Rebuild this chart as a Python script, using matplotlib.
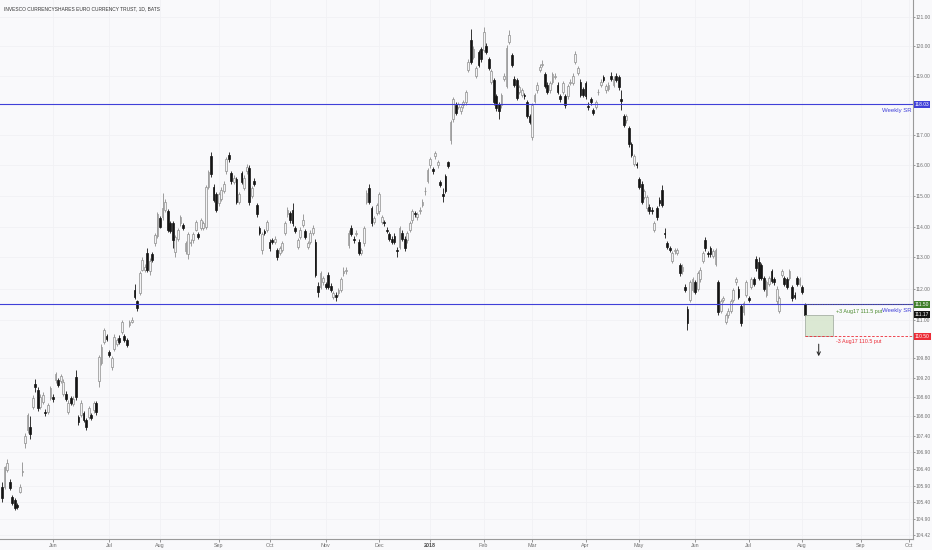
import numpy as np
import pandas as pd
import matplotlib
matplotlib.use('Agg')
import matplotlib.pyplot as plt
from matplotlib.ticker import FixedLocator, NullLocator, FuncFormatter
from matplotlib.patches import Rectangle

# --- data (daily candles, FXE 1D) ---
title = 'INVESCO CURRENCYSHARES EURO CURRENCY TRUST, 1D, BATS'
start_date = '2017-05-03'
end_calendar = '2018-10-10'
holidays = ['2017-05-29', '2017-07-04', '2017-09-04', '2017-11-23', '2017-12-25',
            '2018-01-01', '2018-01-15', '2018-02-19', '2018-03-30', '2018-05-28',
            '2018-07-04', '2018-09-03']

opens = [
    105.86, 105.86, 106.37, 106.00, 105.56, 105.47, 105.30, 105.71, 106.30, 107.20,
    107.59, 107.68, 108.30, 109.00, 108.82, 108.30, 108.45, 108.15, 108.15, 108.57,
    108.60, 109.13, 109.13, 109.10, 108.70, 108.70, 108.15, 108.57, 108.40, 109.22,
    107.98, 108.05, 108.10, 107.89, 107.98, 108.05, 108.20, 108.42, 109.10, 109.66,
    110.32, 110.50, 110.00, 109.53, 110.10, 110.25, 110.45, 110.63, 110.50, 110.38,
    110.85, 110.95, 111.96, 111.60, 111.86, 112.60, 112.60, 113.14, 112.55, 113.10,
    113.45, 113.70, 114.27, 114.30, 114.55, 114.50, 114.10, 114.10, 113.18, 113.60,
    114.10, 114.05, 113.20, 113.10, 113.45, 113.55, 113.90, 113.75, 113.95, 113.95,
    114.00, 115.30, 116.30, 115.30, 115.05, 114.75, 114.90, 115.15, 115.80, 116.35,
    115.75, 115.45, 115.55, 114.80, 115.75, 115.25, 115.80, 115.90, 115.00, 115.50,
    114.70, 113.95, 113.25, 113.85, 113.90, 113.50, 113.55, 113.50, 113.25, 113.15,
    113.25, 113.80, 114.40, 114.45, 114.55, 113.95, 113.35, 113.65, 114.05, 113.85,
    113.35, 113.50, 113.80, 113.50, 112.10, 112.05, 112.20, 112.15, 112.45, 112.10,
    111.75, 111.80, 111.85, 111.95, 112.50, 112.55, 113.40, 113.95, 113.60, 113.75,
    113.50, 113.15, 113.45, 114.80, 115.25, 114.60, 114.15, 114.45, 114.50, 114.15,
    114.15, 113.90, 113.75, 113.60, 113.70, 113.25, 113.35, 113.80, 113.60, 113.55,
    113.90, 114.20, 114.45, 114.30, 114.50, 114.70, 115.15, 115.50, 116.00, 115.88,
    116.30, 116.00, 115.45, 115.05, 115.65, 116.10, 116.85, 117.55, 118.00, 117.95,
    117.80, 118.00, 118.10, 119.20, 120.20, 119.65, 119.00, 119.80, 119.90, 119.87,
    120.00, 119.55, 118.80, 118.85, 118.30, 118.05, 118.00, 118.90, 118.65, 120.15,
    119.70, 118.90, 118.85, 118.45, 118.35, 118.35, 118.10, 117.65, 116.95, 118.15,
    118.50, 119.20, 119.35, 119.05, 118.70, 118.50, 118.80, 118.95, 118.70, 118.30,
    118.45, 118.30, 118.30, 118.75, 118.75, 119.45, 119.10, 118.80, 118.55, 118.75,
    117.98, 118.20, 117.85, 117.95, 118.45, 118.70, 118.95, 118.50, 118.55, 119.00,
    118.70, 119.00, 118.95, 118.20, 117.65, 117.50, 117.25, 116.70, 116.05, 116.05,
    115.55, 115.40, 114.95, 114.60, 114.65, 114.55, 113.90, 114.60, 114.85, 115.20,
    113.80, 113.45, 113.30, 112.90, 113.20, 113.15, 112.75, 112.55, 112.05, 111.35,
    111.65, 111.95, 112.20, 112.00, 112.30, 112.90, 113.55, 113.15, 113.30, 113.05,
    112.80, 112.20, 111.30, 111.65, 110.95, 111.15, 111.30, 111.65, 112.20, 112.00,
    111.45, 111.25, 111.80, 111.70, 112.05, 112.30, 112.95, 112.85, 112.75, 112.35,
    111.80, 112.15, 112.55, 112.30, 111.60, 111.30, 112.45, 112.35, 112.30, 112.35,
    112.05, 111.80, 112.35, 112.15, 112.05, 111.50,
]
highs = [
    106.00, 106.50, 106.70, 106.10, 105.62, 105.52, 105.36, 105.95, 106.60, 107.48,
    108.12, 108.00, 108.65, 109.15, 108.90, 108.68, 108.75, 108.22, 108.42, 108.95,
    108.70, 109.38, 109.20, 109.32, 109.15, 108.78, 108.50, 108.62, 108.62, 109.45,
    108.05, 108.50, 108.18, 107.95, 108.32, 108.10, 108.48, 108.48, 109.90, 110.25,
    110.75, 110.58, 110.06, 109.88, 110.55, 110.45, 110.52, 111.00, 110.56, 110.45,
    111.02, 111.10, 112.15, 111.65, 112.58, 113.00, 112.78, 113.30, 112.98, 113.18,
    113.80, 114.48, 114.35, 115.10, 114.88, 114.58, 114.18, 114.18, 113.72, 113.96,
    114.36, 114.12, 113.52, 113.82, 113.58, 113.82, 114.22, 113.82, 114.26, 114.18,
    115.36, 115.85, 116.45, 115.38, 115.12, 115.12, 115.28, 115.48, 116.28, 116.45,
    115.82, 115.68, 115.62, 115.12, 115.82, 115.68, 116.05, 116.00, 115.32, 115.58,
    114.78, 114.02, 113.82, 113.92, 114.22, 113.58, 113.62, 113.68, 113.32, 113.38,
    113.52, 114.18, 114.62, 114.52, 114.75, 114.02, 113.62, 113.98, 114.40, 113.92,
    113.52, 113.88, 114.05, 113.60, 112.20, 112.58, 112.42, 112.22, 112.52, 112.18,
    111.92, 111.88, 112.02, 112.38, 112.68, 112.68, 113.88, 114.05, 113.68, 113.88,
    113.58, 113.32, 114.02, 115.18, 115.40, 114.68, 114.35, 114.78, 115.12, 114.38,
    114.22, 113.98, 113.82, 113.68, 113.78, 113.35, 114.02, 113.88, 113.68, 113.86,
    114.18, 114.58, 114.52, 114.48, 114.62, 114.88, 115.30, 115.92, 116.28, 115.95,
    116.48, 116.18, 115.52, 115.25, 115.72, 116.15, 117.52, 118.28, 118.10, 118.12,
    118.02, 118.18, 118.52, 119.55, 120.60, 120.00, 119.32, 119.88, 119.98, 120.65,
    120.10, 119.62, 119.22, 118.92, 118.38, 118.12, 118.42, 119.08, 120.05, 120.55,
    119.78, 118.98, 118.92, 118.68, 118.58, 118.42, 118.18, 117.72, 118.08, 118.42,
    118.78, 119.38, 119.52, 119.12, 118.78, 118.82, 119.12, 119.08, 118.78, 118.38,
    118.82, 118.38, 118.72, 118.88, 119.08, 119.85, 119.32, 118.88, 118.62, 118.82,
    118.10, 118.28, 117.92, 118.18, 118.55, 118.88, 119.02, 118.72, 118.78, 119.12,
    118.98, 119.08, 119.02, 118.50, 117.72, 117.72, 117.32, 116.78, 116.38, 116.12,
    115.62, 115.48, 115.22, 115.02, 114.72, 114.62, 114.18, 114.68, 114.95, 115.35,
    113.95, 113.52, 113.38, 113.22, 113.32, 113.32, 112.82, 112.78, 112.15, 111.45,
    112.28, 112.38, 112.28, 112.58, 112.68, 113.22, 113.65, 113.22, 113.38, 113.28,
    113.32, 112.28, 111.68, 111.78, 111.22, 111.38, 111.68, 112.02, 112.38, 112.08,
    111.52, 111.62, 112.28, 111.78, 112.38, 112.38, 113.05, 113.00, 112.82, 112.42,
    112.28, 112.42, 112.62, 112.38, 112.08, 111.78, 112.62, 112.42, 112.38, 112.62,
    112.12, 111.88, 112.42, 112.38, 112.12, 111.55,
]
lows = [
    105.40, 105.80, 106.30, 105.75, 105.30, 105.15, 105.18, 105.66, 106.20, 107.05,
    107.50, 107.30, 108.22, 108.75, 108.18, 108.22, 108.38, 108.02, 108.08, 108.50,
    108.45, 109.05, 108.90, 109.02, 108.62, 108.48, 108.08, 108.35, 108.32, 108.52,
    107.75, 107.98, 107.82, 107.60, 107.92, 107.90, 108.12, 108.05, 108.90, 109.58,
    110.25, 110.34, 109.84, 109.45, 110.04, 110.18, 110.24, 110.58, 110.32, 110.15,
    110.80, 110.90, 111.68, 111.30, 111.80, 112.55, 112.52, 112.52, 112.45, 112.85,
    113.38, 113.62, 113.94, 114.22, 114.48, 113.82, 113.78, 113.30, 113.00, 113.54,
    114.02, 113.88, 113.12, 112.95, 113.38, 113.48, 113.84, 113.58, 113.88, 113.88,
    113.92, 115.22, 115.62, 114.80, 114.48, 114.68, 114.82, 115.08, 115.72, 116.12,
    115.40, 115.38, 114.72, 114.72, 115.38, 115.18, 115.72, 114.70, 114.92, 115.32,
    114.32, 113.72, 113.10, 113.72, 113.82, 113.22, 113.42, 113.42, 112.92, 113.08,
    113.18, 113.72, 114.32, 114.12, 114.02, 113.78, 113.28, 113.58, 113.98, 113.58,
    113.28, 113.42, 113.72, 112.38, 111.72, 111.98, 112.12, 111.98, 111.98, 111.88,
    111.68, 111.62, 111.78, 111.88, 112.42, 112.48, 113.32, 113.68, 113.48, 113.68,
    113.08, 113.08, 113.38, 114.72, 114.72, 114.02, 114.08, 114.38, 114.42, 114.08,
    114.02, 113.78, 113.52, 113.42, 113.42, 113.00, 113.28, 113.52, 113.22, 113.48,
    113.82, 114.12, 114.32, 114.22, 114.42, 114.62, 115.02, 115.42, 115.92, 115.72,
    116.22, 115.92, 115.28, 114.80, 115.08, 115.90, 116.70, 117.45, 117.68, 117.88,
    117.72, 117.92, 118.02, 119.12, 119.38, 119.58, 118.92, 119.28, 119.48, 119.80,
    119.72, 119.18, 118.72, 118.02, 117.82, 117.55, 117.92, 118.82, 118.58, 120.08,
    119.28, 118.62, 118.18, 118.38, 118.28, 118.22, 117.58, 117.38, 116.85, 118.08,
    118.42, 119.12, 119.28, 118.58, 118.38, 118.42, 118.72, 118.88, 118.38, 118.12,
    118.38, 117.92, 118.22, 118.68, 118.68, 119.38, 119.02, 118.28, 118.28, 118.22,
    117.85, 118.02, 117.68, 117.88, 118.35, 118.62, 118.78, 118.42, 118.48, 118.82,
    118.62, 118.78, 118.52, 117.85, 117.28, 117.42, 116.62, 116.28, 115.98, 115.92,
    115.22, 114.72, 114.88, 114.52, 114.42, 114.40, 113.82, 114.22, 114.68, 114.62,
    113.62, 113.28, 113.18, 112.82, 113.12, 113.08, 112.42, 112.48, 111.88, 110.70,
    111.58, 111.88, 111.82, 111.92, 112.22, 112.82, 113.22, 113.02, 113.02, 112.98,
    112.72, 111.18, 111.22, 111.58, 110.88, 111.08, 111.22, 111.58, 112.12, 111.68,
    110.82, 111.18, 111.72, 111.58, 111.98, 112.08, 112.58, 112.28, 112.28, 111.92,
    111.72, 112.08, 112.18, 112.12, 111.52, 111.22, 112.38, 112.08, 111.98, 112.28,
    111.62, 111.68, 112.08, 112.08, 111.82, 111.12,
]
closes = [
    105.53, 106.46, 106.58, 105.83, 105.38, 105.23, 105.26, 105.86, 106.35, 107.40,
    108.05, 107.45, 108.57, 108.90, 108.26, 108.60, 108.67, 108.12, 108.36, 108.88,
    108.55, 109.30, 108.98, 109.25, 109.08, 108.55, 108.42, 108.42, 108.55, 108.60,
    107.83, 108.42, 107.89, 107.68, 108.26, 107.95, 108.42, 108.15, 109.84, 110.16,
    110.69, 110.40, 109.90, 109.81, 110.47, 110.37, 110.30, 110.95, 110.38, 110.22,
    110.95, 111.01, 111.74, 111.40, 112.50, 112.92, 112.70, 112.60, 112.90, 112.92,
    113.72, 114.40, 114.00, 114.60, 114.80, 113.90, 113.85, 113.55, 113.65, 113.90,
    114.30, 113.95, 113.45, 113.75, 113.50, 113.75, 114.15, 113.65, 114.20, 114.10,
    115.30, 115.78, 115.70, 114.86, 114.55, 115.05, 115.20, 115.40, 116.20, 116.20,
    115.48, 115.60, 114.80, 115.05, 115.45, 115.60, 115.95, 114.80, 115.25, 115.40,
    114.40, 113.80, 113.75, 113.80, 114.15, 113.30, 113.50, 113.60, 113.00, 113.30,
    113.45, 114.10, 114.55, 114.20, 114.10, 113.85, 113.55, 113.90, 114.20, 113.65,
    113.45, 113.80, 113.95, 112.45, 111.90, 112.50, 112.35, 112.05, 112.05, 111.95,
    111.85, 111.75, 111.95, 112.30, 112.55, 112.60, 113.80, 113.75, 113.55, 113.80,
    113.15, 113.25, 113.95, 115.10, 114.80, 114.10, 114.27, 114.70, 115.05, 114.30,
    114.10, 113.85, 113.60, 113.50, 113.50, 113.22, 113.95, 113.60, 113.30, 113.80,
    114.10, 114.50, 114.40, 114.40, 114.55, 114.80, 115.17, 115.85, 116.20, 115.80,
    116.40, 116.10, 115.35, 115.00, 115.15, 115.98, 117.45, 118.20, 117.75, 118.05,
    117.95, 118.10, 118.45, 119.45, 119.45, 119.90, 119.25, 119.35, 119.55, 120.50,
    119.80, 119.25, 119.15, 118.10, 117.90, 117.80, 118.35, 119.00, 119.95, 120.40,
    119.35, 118.70, 118.25, 118.60, 118.50, 118.30, 117.65, 117.45, 118.00, 118.35,
    118.70, 119.30, 119.40, 118.65, 118.45, 118.75, 119.05, 119.00, 118.45, 118.20,
    118.75, 118.00, 118.65, 118.80, 119.00, 119.75, 119.25, 118.35, 118.35, 118.30,
    117.95, 118.10, 117.75, 118.10, 118.45, 118.80, 118.85, 118.65, 118.70, 118.90,
    118.90, 118.85, 118.60, 118.15, 117.35, 117.65, 116.70, 116.35, 116.30, 116.00,
    115.30, 114.80, 115.15, 114.95, 114.50, 114.50, 114.10, 114.30, 114.75, 114.70,
    113.75, 113.35, 113.25, 113.15, 113.25, 113.25, 112.50, 112.70, 111.95, 110.90,
    112.20, 112.30, 111.90, 112.50, 112.60, 113.15, 113.30, 113.10, 113.10, 113.20,
    113.25, 111.25, 111.60, 111.70, 111.15, 111.30, 111.60, 111.95, 112.30, 111.75,
    110.90, 111.55, 112.20, 111.65, 112.30, 112.15, 112.65, 112.35, 112.35, 112.00,
    112.20, 112.35, 112.25, 112.20, 112.00, 111.70, 112.55, 112.15, 112.05, 112.55,
    111.70, 111.75, 112.15, 112.30, 111.90, 111.17,
]

weekly_sr = [118.03, 111.50]
put_long = 111.5
put_short = 110.5
expiry = '2018-08-17'
long_label = '+3 Aug17 111.5 put'
short_label = '-3 Aug17 110.5 put'
price_ticks = [121.00, 120.00, 119.00, 117.00, 116.00, 115.00, 114.00, 113.00,
               112.00, 111.00, 109.80, 109.20, 108.60, 108.00, 107.40, 106.90, 106.40,
               105.90, 105.40, 104.90, 104.42]
y_range = (104.30, 121.59)

# --- colours ---
bg = '#f9f9fb'
sr_blue = '#4040d8'
up_edge = '#8e8e8e'
down_col = '#141414'
green = '#4b8a2e'
red = '#ec2b36'
tick_col = '#707070'
narrow = ['Liberation Sans Narrow', 'Liberation Sans', 'DejaVu Sans']

o = np.array(opens)
h = np.array(highs)
l = np.array(lows)
c = np.array(closes)
n = len(c)

cal = pd.date_range(start_date, end_calendar, freq=pd.offsets.CustomBusinessDay(holidays=holidays))
x = np.arange(n)

fig = plt.figure(figsize=(9.32, 5.5), dpi=100, facecolor=bg)
ax = fig.add_axes([0, 11 / 550, 913 / 932, 539 / 550], facecolor=bg)
ax.set_yscale('log')

up = c >= o
lo = np.minimum(o, c)
hi = np.maximum(o, c)
ax.vlines(x[up], l[up], h[up], color=up_edge, lw=0.6, zorder=2)
ax.vlines(x[~up], l[~up], h[~up], color=down_col, lw=0.6, zorder=2)
ax.bar(x[up], hi[up] - lo[up], bottom=lo[up], width=0.7, color='#f3f3f5',
       edgecolor=up_edge, lw=0.5, zorder=3)
ax.bar(x[~up], hi[~up] - lo[~up], bottom=lo[~up], width=0.7, color=down_col,
       edgecolor=down_col, lw=0.5, zorder=3)

# weekly support / resistance
for lvl in weekly_sr:
    ax.axhline(lvl, color=sr_blue, lw=0.8, zorder=4)
    ax.text(0.998, lvl * 0.9989, 'Weekly SR', transform=ax.get_yaxis_transform(),
            ha='right', va='top', fontsize=4.3, color=sr_blue, family=narrow, zorder=5)

# option position
last_i = n - 1
exp_i = int(np.searchsorted(cal, pd.Timestamp(expiry)))
x_right = 357.5
ax.add_patch(Rectangle((last_i, put_short), exp_i - last_i, c[-1] - put_short,
                       facecolor='#d6e6cc', edgecolor='#9aa59a', lw=0.6, alpha=0.85, zorder=4))
ax.plot([last_i, x_right], [put_long, put_long], color='#555555', lw=0.6,
        ls=(0, (1.5, 1.5)), zorder=5)
ax.plot([last_i, x_right], [put_short, put_short], color=red, lw=0.6,
        ls=(0, (3, 2)), zorder=5)
ax.text(exp_i + 1.2, put_long * 0.9988, long_label, ha='left', va='top',
        fontsize=3.9, color=green, family=narrow, zorder=5)
ax.text(exp_i + 1.2, put_short * 0.9992, short_label, ha='left', va='top',
        fontsize=3.9, color=red, family=narrow, zorder=5)
arrow_x = (last_i + exp_i) / 2
ax.annotate('', xy=(arrow_x, put_short * 0.9935), xytext=(arrow_x, put_short * 0.9985),
            arrowprops=dict(arrowstyle='->', color='#222222', lw=0.7, mutation_scale=6))

# price tags on right axis
tags = [(weekly_sr[0], sr_blue, 'white'), (put_long, '#3f7f2a', 'white'),
        (c[-1], '#111111', 'white'), (put_short, red, 'white')]
for val, fc, tc in tags:
    ax.text(1.002, val, '%.2f' % val, transform=ax.get_yaxis_transform(), ha='left',
            va='center', fontsize=3.5, color=tc, family=narrow, clip_on=False, zorder=6,
            bbox=dict(boxstyle='square,pad=0.2', fc=fc, ec='none'))

# axes
ax.set_xlim(-0.8, x_right)
ax.set_ylim(*y_range)
ax.yaxis.tick_right()
ax.yaxis.set_major_locator(FixedLocator(price_ticks))
ax.yaxis.set_minor_locator(NullLocator())
ax.yaxis.set_major_formatter(FuncFormatter(lambda v, p: '%.2f' % v))

months = pd.date_range('2017-06-01', '2018-10-01', freq='MS')
tick_pos = [int(np.searchsorted(cal, m)) for m in months]
tick_lab = ['2018' if m.month == 1 else m.strftime('%b') for m in months]
ax.set_xticks(tick_pos)
ax.set_xticklabels(tick_lab)

ax.tick_params(axis='x', labelsize=3.9, colors=tick_col, length=2, width=0.5, pad=1.2)
ax.tick_params(axis='y', labelsize=3.5, colors=tick_col, length=1.5, width=0.5, pad=0.6)
for t in ax.get_xticklabels() + ax.get_yticklabels():
    t.set_family(narrow)
for t in ax.get_xticklabels():
    if t.get_text() == '2018':
        t.set_fontweight('bold')
        t.set_color('#444444')
ax.grid(True, color='#f1f1f4', lw=0.6, zorder=0)
for s in ['top', 'left']:
    ax.spines[s].set_visible(False)
for s in ['right', 'bottom']:
    ax.spines[s].set_color('#9a9a9a')
    ax.spines[s].set_linewidth(0.8)

fig.text(0.004, 0.988, title, ha='left', va='top', fontsize=3.5, color='#333333', family=narrow)

fig.savefig('out.png', dpi=100, facecolor=bg)
